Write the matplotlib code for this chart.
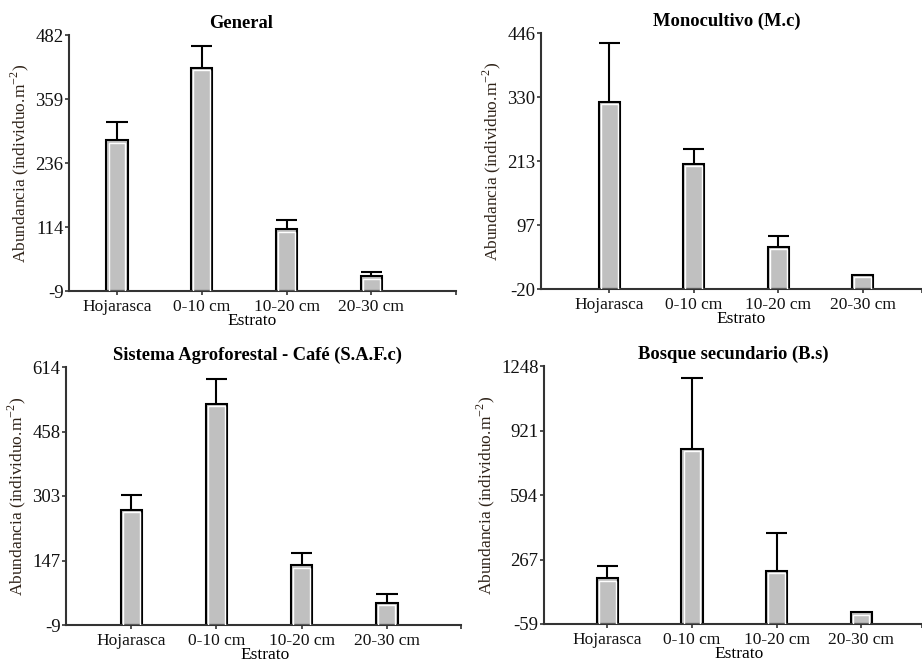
import numpy as np
import matplotlib.pyplot as plt

plt.rcParams['font.family'] = ['Liberation Serif', 'DejaVu Serif']
plt.rcParams['mathtext.fontset'] = 'custom'
plt.rcParams['mathtext.rm'] = 'Liberation Serif'

estratos = ["Hojarasca", "0-10 cm", "10-20 cm", "20-30 cm"]

# mean abundance and (upper) error per stratum
general_mean = [280, 419, 109, 19]
general_err = [35, 42, 18, 9]
mono_mean = [320, 207, 57, 6]
mono_err = [107, 28, 20, 0]
saf_mean = [269, 524, 135, 44]
saf_err = [35, 60, 31, 22]
bosque_mean = [172, 827, 211, 0]
bosque_err = [62, 360, 192, 0]

general_ticks = ["-9", "114", "236", "359", "482"]
mono_ticks = ["-20", "97", "213", "330", "446"]
saf_ticks = ["-9", "147", "303", "458", "614"]
bosque_ticks = ["-59", "267", "594", "921", "1248"]

W, H = 922, 662
fig = plt.figure(figsize=(W / 100, H / 100), dpi=100)


def px_rect(left, top, right, bottom):
    return [left / W, 1 - bottom / H, (right - left) / W, (bottom - top) / H]


panels = [
    # title, means, errs, tick labels, axes box (px), xlim, title x, xlabel x
    ("General", general_mean, general_err, general_ticks,
     (69, 35, 456, 291), (-0.567, 4.0), 0.444, 0.473),
    ("Monocultivo (M.c)", mono_mean, mono_err, mono_ticks,
     (541, 33, 922, 289), (-0.808, 3.70), 0.487, 0.525),
    ("Sistema Agroforestal - Café (S.A.F.c)", saf_mean, saf_err, saf_ticks,
     (66, 367, 461, 625), (-0.766, 3.87), 0.484, 0.505),
    ("Bosque secundario (B.s)", bosque_mean, bosque_err, bosque_ticks,
     (544, 366, 922, 624), (-0.751, 3.72), 0.502, 0.516),
]

bar_w = 0.25
for title, means, errs, ticks, box, xlim, tx, lx in panels:
    ax = fig.add_axes(px_rect(*box))
    yvals = [float(t) for t in ticks]
    ymin, ymax = yvals[0], yvals[-1]
    x = np.arange(len(estratos))
    means = np.array(means, dtype=float)
    errs = np.array(errs, dtype=float)

    ax.bar(x, means - ymin, bottom=ymin, width=bar_w, color='#c0c0c0',
           edgecolor='black', linewidth=1.5, zorder=2)
    # thin white inner border
    ax_w_px = box[2] - box[0]
    ax_h_px = box[3] - box[1]
    dx = (xlim[1] - xlim[0]) / ax_w_px * 2.2
    dy = (ymax - ymin) / ax_h_px * 2.2
    ax.bar(x, means - ymin - dy, bottom=ymin, width=bar_w - 2 * dx,
           color='none', edgecolor='white', linewidth=1.0, zorder=3)

    tops = means + errs
    has_err = errs > 0
    ax.vlines(x[has_err], means[has_err], tops[has_err], color='black',
              linewidth=1.5, zorder=1)
    ax.hlines(tops[has_err], x[has_err] - bar_w / 2, x[has_err] + bar_w / 2,
              color='black', linewidth=1.5, zorder=1)

    ax.set_xlim(*xlim)
    ax.set_ylim(ymin, ymax)
    ax.set_yticks(np.linspace(ymin, ymax, len(ticks)))
    ax.set_yticklabels(ticks)
    ax.set_xticks(x)
    ax.set_xticklabels(estratos)
    ax.set_xticks([xlim[1]], minor=True)
    ax.tick_params(axis='both', direction='out', length=3, width=1.2,
                   pad=1, color='#333333', labelcolor='#111111')
    ax.tick_params(axis='y', labelsize=13.5)
    ax.tick_params(axis='x', labelsize=12.5, pad=3)
    ax.tick_params(axis='x', which='minor', length=3, width=1.2,
                   color='#333333')

    for s in ['top', 'right']:
        ax.spines[s].set_visible(False)
    for s in ['left', 'bottom']:
        ax.spines[s].set_linewidth(1.5)
        ax.spines[s].set_color('#333333')

    ax.set_title(title, fontsize=13.3, fontweight='bold', pad=5, x=tx)
    ax.set_ylabel(r"Abundancia (individuo.m$^{\mathregular{-2}}$)",
                  fontsize=12.5, labelpad=3, color='#2e2218')
    ax.set_xlabel("Estrato", fontsize=12.5, labelpad=-2, x=lx)

fig.savefig("out.png", dpi=100)
